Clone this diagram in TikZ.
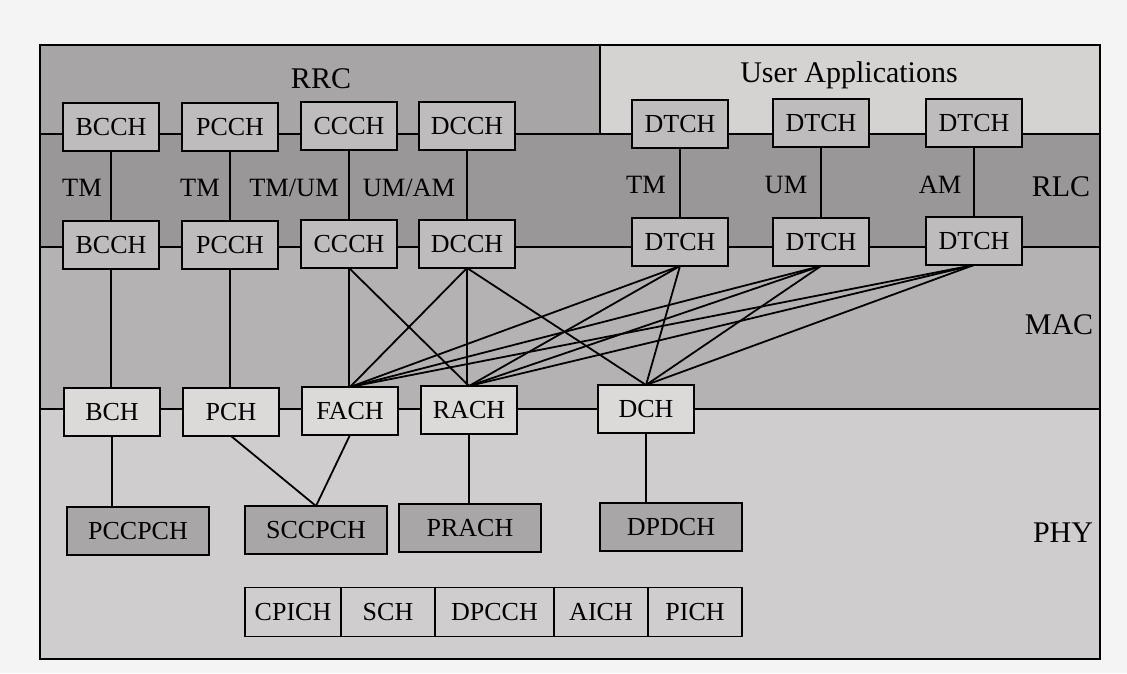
\documentclass[tikz,border=0pt]{standalone}
\usepackage{fontspec}
\setmainfont{Liberation Serif}
\usetikzlibrary{positioning}
\definecolor{paper}{HTML}{F5F4F4}
\definecolor{rrcfill}{HTML}{A8A5A6}
\definecolor{appfill}{HTML}{D5D2D2}
\definecolor{rlcfill}{HTML}{9A9798}
\definecolor{macfill}{HTML}{B5B2B3}
\definecolor{phyfill}{HTML}{D0CDCE}
\definecolor{logfill}{HTML}{BFBCBD}
\definecolor{trfill}{HTML}{DCD9D9}
\definecolor{physfill}{HTML}{A9A6A7}

\begin{document}
\begin{tikzpicture}[
  x=0.5pt, y=-0.5pt,
  line width=0.9pt,
  chan/.style={
    draw=black,
    fill=#1,
    line width=0.9pt,
    minimum width=48pt,
    minimum height=24pt,
    inner sep=0pt,
    outer sep=0pt,
    font=\fontsize{13}{13}\selectfont
  },
  chan/.default=logfill,
  wide/.style={chan=physfill, minimum width=71pt},
  cell/.style={chan=phyfill, minimum height=24.5pt},
  mode/.style={font=\fontsize{13.2}{13.2}\selectfont},
  layer/.style={font=\fontsize{15}{15}\selectfont},
  link/.style={draw=black, line width=0.9pt}
]

% page and layer bands
\fill[paper] (0,0) rectangle (1127,673);
\fill[rrcfill] (40,45) rectangle (600,134);
\fill[appfill] (600,45) rectangle (1100,134);
\fill[rlcfill] (40,134) rectangle (1100,247);
\fill[macfill] (40,247) rectangle (1100,409);
\fill[phyfill] (40,409) rectangle (1100,659);
\draw (600,45) -- (600,134);
\draw (40,134) -- (1100,134);
\draw (40,247) -- (1100,247);
\draw (40,409) -- (1100,409);
\draw (40,45) rectangle (1100,659);

% layer names
\node[layer] at (321,79) {RRC};
\node[layer] at (849,75) {User Applications};
\node[layer] at (1061,187) {RLC};
\node[layer] at (1059,325) {MAC};
\node[layer] at (1063,533) {PHY};

% logical channels above RLC
\node[chan] (bcchup) at (111,127) {BCCH};
\node[chan] (pcchup) at (230,127) {PCCH};
\node[chan] (ccchup) at (349,126) {CCCH};
\node[chan] (dcchup) at (467,126) {DCCH};
\node[chan] (dtchupa) at (680,124) {DTCH};
\node[chan] (dtchupb) at (821,123) {DTCH};
\node[chan] (dtchupc) at (974,123) {DTCH};

% logical channels below RLC
\node[chan] (bcchlo) at (111,245) {BCCH};
\node[chan] (pcchlo) at (230,245) {PCCH};
\node[chan] (ccchlo) at (349,244) {CCCH};
\node[chan] (dcchlo) at (467,244) {DCCH};
\node[chan] (dtchloa) at (680,242) {DTCH};
\node[chan] (dtchlob) at (821,242) {DTCH};
\node[chan] (dtchloc) at (974,241) {DTCH};

% RLC modes
\node[mode] at (82,188) {TM};
\node[mode] at (200,188) {TM};
\node[mode] at (294,188) {TM/UM};
\node[mode] at (409,188) {UM/AM};
\node[mode] at (646,185) {TM};
\node[mode] at (786,185) {UM};
\node[mode] at (940,185) {AM};

% transport channels
\node[chan=trfill] (bch) at (112,412) {BCH};
\node[chan=trfill] (pch) at (231,412) {PCH};
\node[chan=trfill] (fach) at (350,411) {FACH};
\node[chan=trfill] (rach) at (469,410) {RACH};
\node[chan=trfill] (dch) at (646,409) {DCH};

% physical channels
\node[wide] (pccpch) at (138,531) {PCCPCH};
\node[wide] (sccpch) at (316,530) {SCCPCH};
\node[wide] (prach) at (470,528) {PRACH};
\node[wide] (dpdch) at (671,527) {DPDCH};

% physical channels without transport channel
\node[cell, minimum width=48pt, anchor=west] (cpich) at (245,612) {CPICH};
\node[cell, minimum width=47pt, right=0pt of cpich] (sch) {SCH};
\node[cell, minimum width=59.5pt, right=0pt of sch] (dpcch) {DPCCH};
\node[cell, minimum width=47pt, right=0pt of dpcch] (aich) {AICH};
\node[cell, minimum width=47pt, right=0pt of aich] (pich) {PICH};

% RLC entities
\draw[link] (bcchup) -- (bcchlo);
\draw[link] (pcchup) -- (pcchlo);
\draw[link] (ccchup) -- (ccchlo);
\draw[link] (dcchup) -- (dcchlo);
\draw[link] (dtchupa) -- (dtchloa);
\draw[link] (dtchupb) -- (dtchlob);
\draw[link] (dtchupc) -- (dtchloc);

% logical to transport mapping
\draw[link] (bcchlo.south) -- (bcchlo.south |- bch.north);
\draw[link] (pcchlo.south) -- (pcchlo.south |- pch.north);
\draw[link] (ccchlo.south) -- (ccchlo.south |- fach.north);
\draw[link] (ccchlo.south) -- (rach.north);
\draw[link] (dcchlo.south) -- (fach.north);
\draw[link] (dcchlo.south) -- (dcchlo.south |- rach.north);
\draw[link] (dcchlo.south) -- (dch.north);
\draw[link] (dtchloa.south) -- (fach.north);
\draw[link] (dtchloa.south) -- (rach.north);
\draw[link] (dtchloa.south) -- (dch.north);
\draw[link] (dtchlob.south) -- (fach.north);
\draw[link] (dtchlob.south) -- (rach.north);
\draw[link] (dtchlob.south) -- (dch.north);
\draw[link] (dtchloc.south) -- (fach.north);
\draw[link] (dtchloc.south) -- (rach.north);
\draw[link] (dtchloc.south) -- (dch.north);

% transport to physical mapping
\draw[link] (bch.south) -- (bch.south |- pccpch.north);
\draw[link] (pch.south) -- (sccpch.north);
\draw[link] (fach.south) -- (sccpch.north);
\draw[link] (rach.south) -- (rach.south |- prach.north);
\draw[link] (dch.south) -- (dch.south |- dpdch.north);

\end{tikzpicture}
\end{document}
